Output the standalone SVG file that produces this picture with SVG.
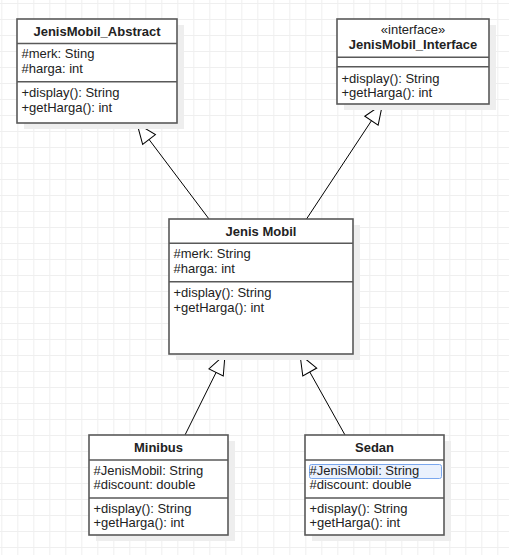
<svg xmlns="http://www.w3.org/2000/svg" width="509" height="555" viewBox="0 0 509 555">
<style>
.box{fill:#fff;stroke:#595959;stroke-width:1.6}
.shd{fill:#eeeeee}
.div{stroke:#595959;stroke-width:1.6}
text{font-family:"Liberation Sans",Arial,sans-serif;font-size:13px;fill:#222}
.t{font-weight:bold;text-anchor:middle}
.c{text-anchor:middle}
.con{stroke:#000;stroke-width:1;fill:none;marker-end:url(#tri)}
</style>
<defs>
<pattern id="grid" patternUnits="userSpaceOnUse" x="1.3" y="3" width="16" height="16">
<path d="M0,0.5 H16 M0.5,0 V16" stroke="#efefef" stroke-width="1" fill="none"/>
</pattern>
<marker id="tri" markerUnits="userSpaceOnUse" markerWidth="26" markerHeight="22" refX="21" refY="9" orient="auto" overflow="visible">
<path d="M1,1 L21,9 L1,17 Z" fill="#fff" stroke="#000" stroke-width="1"/>
</marker>
</defs>
<rect width="509" height="555" fill="#fff"/>
<rect width="509" height="555" fill="url(#grid)"/>

<g id="connectors">
<line class="con" x1="209" y1="219" x2="137" y2="123.5"/>
<line class="con" x1="306.5" y1="219" x2="382.5" y2="104"/>
<line class="con" x1="185" y1="435" x2="225" y2="354.5"/>
<line class="con" x1="345" y1="435" x2="300" y2="354.5"/>
</g>

<g id="JenisMobil_Abstract">
<rect class="shd" x="24" y="25" width="160" height="104"/>
<rect class="box" x="17" y="19" width="160" height="104"/>
<line class="div" x1="17" y1="43.5" x2="177" y2="43.5"/>
<line class="div" x1="17" y1="81.7" x2="177" y2="81.7"/>
<text class="t" x="97" y="36">JenisMobil_Abstract</text>
<text x="21.5" y="58.3">#merk: Sting</text>
<text x="21.5" y="73.3">#harga: int</text>
<text x="21.5" y="96.8">+display(): String</text>
<text x="21.5" y="111.8">+getHarga(): int</text>
</g>

<g id="JenisMobil_Interface">
<rect class="shd" x="344" y="25" width="152" height="85"/>
<rect class="box" x="337" y="19" width="152" height="85"/>
<line class="div" x1="337" y1="57.3" x2="489" y2="57.3"/>
<line class="div" x1="337" y1="66.7" x2="489" y2="66.7"/>
<text class="c" x="413" y="33.5">«interface»</text>
<text class="t" x="413" y="48.7">JenisMobil_Interface</text>
<text x="341.5" y="82.5">+display(): String</text>
<text x="341.5" y="97">+getHarga(): int</text>
</g>

<g id="Jenis_Mobil">
<rect class="shd" x="176" y="225" width="184" height="135"/>
<rect class="box" x="169" y="219" width="184" height="135"/>
<line class="div" x1="169" y1="243.3" x2="353" y2="243.3"/>
<line class="div" x1="169" y1="281.7" x2="353" y2="281.7"/>
<text class="t" x="261" y="236">Jenis Mobil</text>
<text x="173.5" y="258.3">#merk: String</text>
<text x="173.5" y="273.3">#harga: int</text>
<text x="173.5" y="297">+display(): String</text>
<text x="173.5" y="312">+getHarga(): int</text>
</g>

<g id="Minibus">
<rect class="shd" x="96" y="441" width="139" height="100"/>
<rect class="box" x="89" y="435" width="139" height="100"/>
<line class="div" x1="89" y1="460" x2="228" y2="460"/>
<line class="div" x1="89" y1="498" x2="228" y2="498"/>
<text class="t" x="158.5" y="451.7">Minibus</text>
<text x="93.5" y="475">#JenisMobil: String</text>
<text x="93.5" y="489">#discount: double</text>
<text x="93.5" y="512.7">+display(): String</text>
<text x="93.5" y="526.7">+getHarga(): int</text>
</g>

<g id="Sedan">
<rect class="shd" x="312" y="441" width="139" height="100"/>
<rect class="box" x="305" y="435" width="139" height="100"/>
<line class="div" x1="305" y1="460" x2="444" y2="460"/>
<line class="div" x1="305" y1="498" x2="444" y2="498"/>
<rect x="309.5" y="464.5" width="132" height="14" rx="2" fill="#eaf1fd" stroke="#7aa7ee" stroke-width="1"/>
<text class="t" x="374.5" y="451.7">Sedan</text>
<text x="309.5" y="475">#JenisMobil: String</text>
<text x="309.5" y="489">#discount: double</text>
<text x="309.5" y="512.7">+display(): String</text>
<text x="309.5" y="526.7">+getHarga(): int</text>
</g>
</svg>
